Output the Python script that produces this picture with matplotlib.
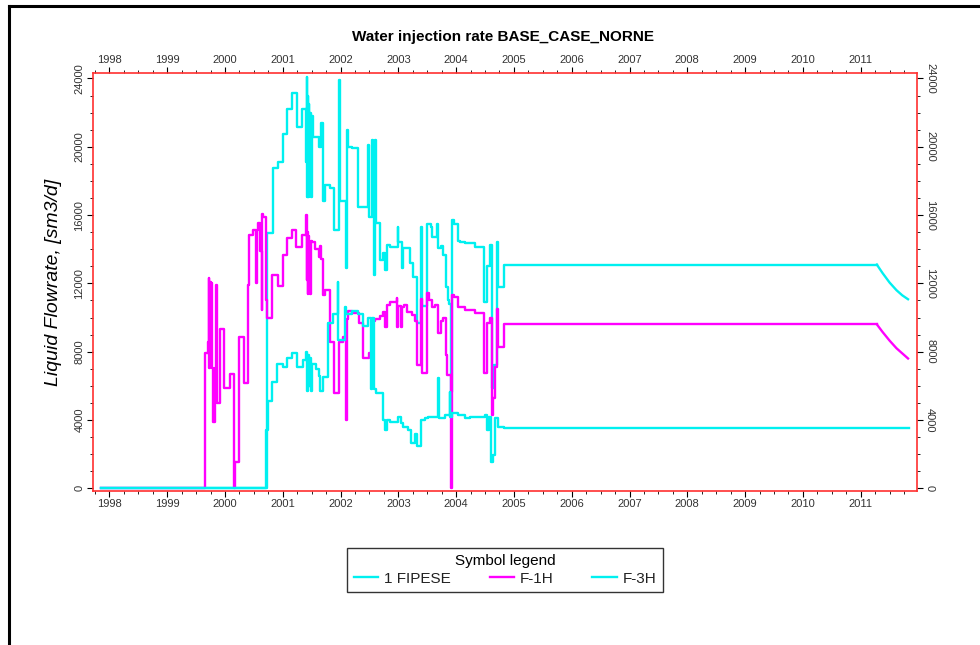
import matplotlib
matplotlib.use("Agg")
import matplotlib.pyplot as plt
from matplotlib.lines import Line2D
from matplotlib.ticker import MultipleLocator

# Water injection rate, Norne base case (sm3/d), step data
fipese_years = [1997.86, 2000.72, 2000.83, 2000.91, 2001.00, 2001.07, 2001.16, 2001.24, 2001.33, 2001.40,
                2001.41, 2001.42, 2001.43, 2001.44, 2001.45, 2001.46, 2001.47, 2001.49, 2001.50, 2001.53,
                2001.62, 2001.66, 2001.69, 2001.73, 2001.81, 2001.89, 2001.98, 2001.99, 2002.10, 2002.11,
                2002.12, 2002.20, 2002.30, 2002.48, 2002.49, 2002.54, 2002.56, 2002.58, 2002.59, 2002.61,
                2002.68, 2002.73, 2002.77, 2002.80, 2002.86, 2002.99, 2003.00, 2003.06, 2003.08, 2003.15,
                2003.20, 2003.26, 2003.32, 2003.40, 2003.41, 2003.49, 2003.57, 2003.58, 2003.67, 2003.69,
                2003.73, 2003.78, 2003.83, 2003.86, 2003.88, 2003.91, 2003.92, 2003.97, 2004.03, 2004.07,
                2004.15, 2004.33, 2004.49, 2004.54, 2004.59, 2004.62, 2004.65, 2004.70, 2004.72, 2004.82,
                2011.28]
fipese_rate = [0, 14930, 18730, 19120, 20740, 22190, 23130, 21170, 22190, 19130,
               24100, 17070, 23000, 17070, 22500, 17500, 22000, 17070, 21800, 20560,
               20000, 21400, 16800, 17760, 17600, 15120, 23900, 16800, 12880, 20980,
               20000, 19900, 16490, 20100, 15900, 20400, 15900, 12490, 20400, 15530,
               13370, 13800, 12800, 14250, 14150, 15300, 14450, 12900, 14100, 14100,
               13200, 12390, 9660, 15300, 10700, 15500, 15300, 14700, 15500, 14050,
               14200, 13670, 11800, 11000, 10800, 5650, 15700, 15500, 14500, 14450,
               14350, 14150, 10930, 13000, 14250, 5850, 7200, 14440, 11800, 13100,
               13100]

f1h_years = [1997.86, 1999.66, 1999.70, 1999.72, 1999.73, 1999.74, 1999.75, 1999.76, 1999.77, 1999.80,
             1999.82, 1999.85, 1999.86, 1999.92, 1999.99, 2000.08, 2000.15, 2000.17, 2000.25, 2000.33,
             2000.40, 2000.42, 2000.49, 2000.54, 2000.545, 2000.57, 2000.61, 2000.64, 2000.645, 2000.65,
             2000.71, 2000.73, 2000.82, 2000.91, 2001.01, 2001.07, 2001.16, 2001.22, 2001.33, 2001.40,
             2001.41, 2001.42, 2001.43, 2001.44, 2001.45, 2001.46, 2001.47, 2001.48, 2001.50, 2001.56,
             2001.62, 2001.64, 2001.66, 2001.69, 2001.73, 2001.81, 2001.89, 2001.98, 2002.05, 2002.10,
             2002.11, 2002.13, 2002.20, 2002.31, 2002.38, 2002.50, 2002.54, 2002.60, 2002.68, 2002.74,
             2002.77, 2002.80, 2002.86, 2002.97, 2002.98, 2003.00, 2003.05, 2003.06, 2003.09, 2003.15,
             2003.23, 2003.29, 2003.32, 2003.40, 2003.41, 2003.49, 2003.53, 2003.58, 2003.63, 2003.69,
             2003.73, 2003.78, 2003.83, 2003.84, 2003.91, 2003.92, 2003.97, 2004.03, 2004.15, 2004.33,
             2004.49, 2004.54, 2004.59, 2004.62, 2004.64, 2004.67, 2004.70, 2004.73, 2004.82, 2011.28]
f1h_rate = [0, 7900, 8580, 12300, 7030, 12100, 7500, 12000, 7030, 3900,
            7030, 11900, 4980, 9300, 5850, 6670, 0, 1560, 8880, 6180,
            11900, 14830, 15120, 12000, 15120, 15520, 13880, 10440, 16060, 15900,
            11050, 9950, 12490, 11860, 13660, 14640, 15120, 14150, 14830, 16000,
            12200, 15000, 11400, 14800, 12300, 14300, 11400, 14500, 14450, 14000,
            13550, 14200, 13400, 11300, 11600, 8580, 5560, 8580, 8880, 4000,
            9900, 10400, 10250, 9660, 7610, 7900, 9800, 9900, 10100, 10350,
            9460, 10730, 10900, 11120, 9460, 10700, 9460, 10600, 10750, 10350,
            10150, 9800, 7220, 11100, 6730, 11420, 11050, 10640, 10750, 9070,
            9800, 9950, 7800, 6630, 0, 11300, 11200, 10640, 10450, 10250,
            6730, 9660, 10000, 4290, 5270, 7100, 10500, 8290, 9600, 9600]

f3h_years = [1997.86, 2000.71, 2000.74, 2000.81, 2000.90, 2001.01, 2001.07, 2001.16, 2001.24, 2001.35,
             2001.40, 2001.42, 2001.43, 2001.45, 2001.47, 2001.49, 2001.51, 2001.57, 2001.62, 2001.64,
             2001.70, 2001.79, 2001.87, 2001.95, 2001.96, 2002.08, 2002.10, 2002.20, 2002.30, 2002.39,
             2002.48, 2002.52, 2002.55, 2002.58, 2002.62, 2002.73, 2002.76, 2002.80, 2002.86, 2002.99,
             2003.05, 2003.08, 2003.17, 2003.22, 2003.28, 2003.32, 2003.40, 2003.46, 2003.52, 2003.69,
             2003.71, 2003.81, 2003.89, 2003.90, 2003.92, 2004.04, 2004.15, 2004.24, 2004.50, 2004.54,
             2004.56, 2004.60, 2004.63, 2004.67, 2004.73, 2004.82, 2011.83]
f3h_rate = [0, 3400, 5100, 6200, 7300, 7100, 7600, 7900, 7100, 7500,
            8000, 5700, 7800, 6000, 7600, 5700, 7300, 7000, 6600, 5700,
            6500, 9700, 10200, 12100, 8700, 10600, 10200, 10400, 10200, 9500,
            10000, 5800, 10000, 5800, 5600, 4000, 3400, 4000, 3900, 4200,
            3800, 3600, 3400, 2650, 3200, 2450, 4000, 4100, 4200, 6450,
            4100, 4300, 5650, 4200, 4400, 4300, 4100, 4200, 4300, 3400,
            4200, 1560, 1950, 4100, 3600, 3500, 3500]

# decline at the end of the forecast
tail_years = [2011.28, 2011.38, 2011.50, 2011.62, 2011.72, 2011.82]
fipese_tail = [13100, 12600, 12050, 11600, 11300, 11070]
f1h_tail = [9600, 9150, 8650, 8200, 7900, 7600]

year_ticks = list(range(1998, 2012))

narrow = ['Liberation Sans Narrow', 'Liberation Sans', 'DejaVu Sans']
cyan = '#00F0F0'
magenta = '#FF00FF'

fig = plt.figure(figsize=(9.8, 6.45), dpi=100)
ax = fig.add_axes([0.0946, 0.2388, 0.8408, 0.648])

ax.step(fipese_years, fipese_rate, where='post', color=cyan, lw=1.7, label='1 FIPESE')
ax.plot(tail_years, fipese_tail, color=cyan, lw=1.7)
ax.step(f1h_years, f1h_rate, where='post', color=magenta, lw=1.7, label='F-1H')
ax.plot(tail_years, f1h_tail, color=magenta, lw=1.7)
ax.step(f3h_years, f3h_rate, where='post', color=cyan, lw=1.7, label='F-3H')

ax.set_xlim(1997.71, 2011.97)
ax.set_ylim(-160, 24320)

for s in ax.spines.values():
    s.set_color('#FF3030')
    s.set_linewidth(1.2)

ax.set_xticks(year_ticks)
ax.set_xticklabels([str(y) for y in year_ticks])
ax.xaxis.set_minor_locator(MultipleLocator(0.25))
ax.yaxis.set_major_locator(MultipleLocator(4000))
ax.yaxis.set_minor_locator(MultipleLocator(1000))
ax.tick_params(which='both', direction='out', top=True, right=True, labeltop=True, labelright=True,
               color='black', labelsize=8, labelcolor='#333333', pad=2)
ax.tick_params(which='major', length=4, width=0.8)
ax.tick_params(which='minor', length=2, width=0.6)
for lab in ax.get_xticklabels() + ax.get_yticklabels():
    lab.set_family(narrow)
for lab in ax.get_yticklabels(which='major'):
    lab.set_rotation(90)
    lab.set_va('center')
for t in ax.yaxis.get_major_ticks():
    t.label2.set_rotation(270)
    t.label2.set_va('center')
    t.label2.set_family(narrow)
for t in ax.xaxis.get_major_ticks():
    t.label2.set_family(narrow)

ax.set_ylabel('Liquid Flowrate, [sm3/d]', fontsize=14, style='italic',
              family=['Liberation Sans', 'DejaVu Sans'], labelpad=9)
fig.text(0.513, 0.942, 'Water injection rate BASE_CASE_NORNE', ha='center', va='center',
         fontsize=11, fontweight='bold', family=narrow)

leg = fig.legend(loc='center', bbox_to_anchor=(0.354, 0.0775, 0.323, 0.0775), mode='expand',
                 ncol=3, title='Symbol legend', frameon=True,
                 fancybox=False, edgecolor='black', handlelength=1.6, handletextpad=0.4,
                 borderaxespad=0, borderpad=0.45, labelspacing=0.2,
                 prop={'family': narrow, 'size': 11})
leg.get_frame().set_linewidth(1.0)
leg.get_title().set_family(narrow)
leg.get_title().set_fontsize(11)
for txt in leg.get_texts():
    txt.set_color('#222222')

# outer page frame (left and top edges only)
fig.add_artist(Line2D([9 / 980, 9 / 980], [0, 1 - 6 / 645], color='black', lw=2.2,
                      transform=fig.transFigure))
fig.add_artist(Line2D([9 / 980, 1.0], [1 - 6 / 645, 1 - 6 / 645], color='black', lw=2.2,
                      transform=fig.transFigure))

fig.savefig('out.png', dpi=100)
